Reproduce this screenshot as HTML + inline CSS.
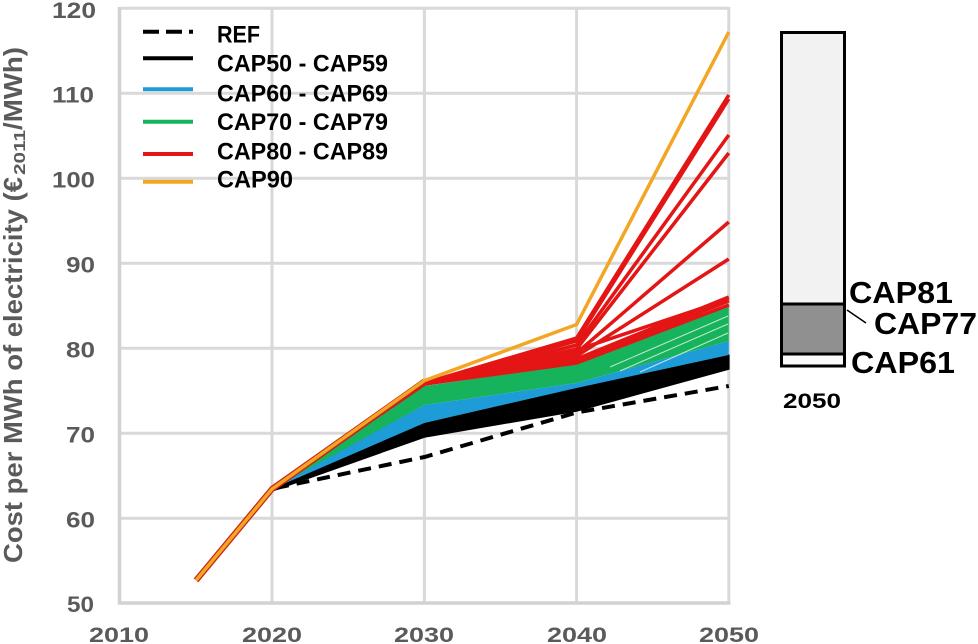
<!DOCTYPE html>
<html>
<head>
<meta charset="utf-8">
<style>
html,body{margin:0;padding:0;background:#fff;}
svg{display:block;}
text{font-family:"Liberation Sans",Arial,sans-serif;font-weight:bold;}
</style>
</head>
<body>
<svg width="978" height="644" viewBox="0 0 978 644" xmlns="http://www.w3.org/2000/svg">
<rect width="978" height="644" fill="#fff"/>
<!-- gridlines -->
<g stroke="#d9d9d9" stroke-width="3" fill="none">
<line x1="120" y1="8.3" x2="729" y2="8.3"/>
<line x1="120" y1="93.3" x2="729" y2="93.3"/>
<line x1="120" y1="178.3" x2="729" y2="178.3"/>
<line x1="120" y1="263.3" x2="729" y2="263.3"/>
<line x1="120" y1="348.3" x2="729" y2="348.3"/>
<line x1="120" y1="433.3" x2="729" y2="433.3"/>
<line x1="120" y1="518.3" x2="729" y2="518.3"/>
<line x1="272" y1="7" x2="272" y2="603"/>
<line x1="424.4" y1="7" x2="424.4" y2="603"/>
<line x1="576.6" y1="7" x2="576.6" y2="603"/>
<line x1="728.8" y1="7" x2="728.8" y2="603"/>
</g>
<g stroke="#d2d2d2" stroke-width="3.5">
<line x1="119.5" y1="7" x2="119.5" y2="604.5"/>
<line x1="118" y1="603" x2="730.5" y2="603"/>
</g>

<!-- y tick labels -->
<g fill="#5a5a5a" font-size="22">
<text x="52" y="18" textLength="44" lengthAdjust="spacingAndGlyphs">120</text>
<text x="52" y="102.5" textLength="42" lengthAdjust="spacingAndGlyphs">110</text>
<text x="52" y="187.5" textLength="43" lengthAdjust="spacingAndGlyphs">100</text>
<text x="66" y="272.5" textLength="29" lengthAdjust="spacingAndGlyphs">90</text>
<text x="66" y="357.5" textLength="29" lengthAdjust="spacingAndGlyphs">80</text>
<text x="66" y="442.5" textLength="29" lengthAdjust="spacingAndGlyphs">70</text>
<text x="66" y="527.5" textLength="29" lengthAdjust="spacingAndGlyphs">60</text>
<text x="67" y="612" textLength="27" lengthAdjust="spacingAndGlyphs">50</text>
</g>
<!-- x tick labels -->
<g fill="#5a5a5a" font-size="21">
<text x="89" y="642" textLength="60" lengthAdjust="spacingAndGlyphs">2010</text>
<text x="242" y="642" textLength="60" lengthAdjust="spacingAndGlyphs">2020</text>
<text x="394" y="642" textLength="60" lengthAdjust="spacingAndGlyphs">2030</text>
<text x="547" y="642" textLength="60" lengthAdjust="spacingAndGlyphs">2040</text>
<text x="699" y="642" textLength="60" lengthAdjust="spacingAndGlyphs">2050</text>
</g>

<!-- y axis title -->
<g fill="#5a5a5a">
<text transform="translate(22,563) rotate(-90)" font-size="26" textLength="386" lengthAdjust="spacingAndGlyphs">Cost per MWh of electricity (€</text>
<text transform="translate(25,175) rotate(-90)" font-size="16" textLength="45" lengthAdjust="spacingAndGlyphs">2011</text>
<text transform="translate(22,130) rotate(-90)" font-size="26" textLength="83" lengthAdjust="spacingAndGlyphs">/MWh)</text>
</g>

<!-- REF dashed -->
<polyline points="276,488 424.4,457 576.6,412.5 728.8,386" fill="none" stroke="#000" stroke-width="4" stroke-dasharray="13 8"/>

<!-- bands -->
<polygon points="272,487 424.4,423 576.6,388 728.8,355 728.8,369 576.6,411 424.4,437 272,491" fill="#000" stroke="#000" stroke-width="1.5" stroke-linejoin="round"/>
<polygon points="272,487 424.4,405 576.6,383 728.8,341 728.8,355 576.6,388 424.4,423 272,489" fill="#1e9cd7"/>
<polygon points="272,487 424.4,386 576.6,364 728.8,304 728.8,341 576.6,383 424.4,405 272,489" fill="#17b25c"/>
<g stroke="#e8f8ee" stroke-width="1" opacity="0.8">
<line x1="610" y1="367" x2="728" y2="316"/>
<line x1="620" y1="371" x2="728" y2="324"/>
<line x1="640" y1="372" x2="728" y2="333"/>
</g>

<!-- red lines -->
<g fill="none" stroke="#e41515" stroke-width="3.5" stroke-linejoin="round">
<polyline points="272,488 424.4,384 576.6,363 728.8,305"/>
<polyline points="272,488 424.4,384 576.6,361 728.8,301"/>
<polyline points="272,488 424.4,384 576.6,359 728.8,297"/>
<polyline points="272,488 424.4,384 576.6,350 728.8,299"/>
<polyline points="272,488 424.4,384 576.6,356 728.8,259"/>
<polyline points="272,488 424.4,384 576.6,353 728.8,222"/>
<polyline points="272,488 424.4,384 576.6,349 728.8,153"/>
<polyline points="272,488 424.4,384 576.6,345 728.8,135"/>
<polyline points="272,488 424.4,383 576.6,341 728.8,99"/>
<polyline points="272,488 424.4,383 576.6,338 728.8,95"/>
</g>
<!-- orange with red underlay -->
<polyline points="196,580.4 272,489 424.4,381.5" fill="none" stroke="#c8261a" stroke-width="6" stroke-linejoin="round"/>
<polyline points="196,580.4 272,489 424.4,380.6 576.6,324.5 728.8,32" fill="none" stroke="#f2a623" stroke-width="3.5" stroke-linejoin="round"/>

<!-- legend -->
<line x1="143" y1="31.7" x2="193" y2="31.7" stroke="#000" stroke-width="4" stroke-dasharray="16 7"/>
<line x1="143" y1="58.3" x2="193" y2="58.3" stroke="#000" stroke-width="4"/>
<line x1="143" y1="89.3" x2="193" y2="89.3" stroke="#1e9cd7" stroke-width="4"/>
<line x1="143" y1="121.7" x2="193" y2="121.7" stroke="#17b25c" stroke-width="4"/>
<line x1="143" y1="154" x2="193" y2="154" stroke="#e41515" stroke-width="4"/>
<line x1="143" y1="181.7" x2="193" y2="181.7" stroke="#f2a623" stroke-width="4"/>
<g fill="#000" font-size="24">
<text x="217" y="42.7" textLength="43" lengthAdjust="spacingAndGlyphs">REF</text>
<text x="217" y="71.7" textLength="171" lengthAdjust="spacingAndGlyphs">CAP50 - CAP59</text>
<text x="217" y="101.7" textLength="171" lengthAdjust="spacingAndGlyphs">CAP60 - CAP69</text>
<text x="217" y="130" textLength="171" lengthAdjust="spacingAndGlyphs">CAP70 - CAP79</text>
<text x="217" y="159.3" textLength="171" lengthAdjust="spacingAndGlyphs">CAP80 - CAP89</text>
<text x="217" y="187.3" textLength="76" lengthAdjust="spacingAndGlyphs">CAP90</text>
</g>

<!-- right bar -->
<rect x="781.5" y="32.5" width="63" height="272" fill="#f2f2f2"/>
<rect x="781.5" y="304" width="63" height="50" fill="#909090"/>
<rect x="781.5" y="354" width="63" height="12" fill="#fbfbfb"/>
<rect x="781.5" y="32.5" width="63" height="333.5" fill="none" stroke="#000" stroke-width="3"/>
<line x1="781.5" y1="304" x2="844.5" y2="304" stroke="#000" stroke-width="3"/>
<line x1="781.5" y1="354" x2="844.5" y2="354" stroke="#000" stroke-width="3"/>
<line x1="847" y1="310" x2="866" y2="323" stroke="#000" stroke-width="1.5"/>
<g fill="#000" font-size="31">
<text x="849" y="303" textLength="104" lengthAdjust="spacingAndGlyphs">CAP81</text>
<text x="874" y="334" textLength="103" lengthAdjust="spacingAndGlyphs">CAP77</text>
<text x="851" y="373" textLength="104" lengthAdjust="spacingAndGlyphs">CAP61</text>
</g>
<text x="783" y="408" font-size="21" fill="#000" textLength="58" lengthAdjust="spacingAndGlyphs">2050</text>
</svg>
</body>
</html>
